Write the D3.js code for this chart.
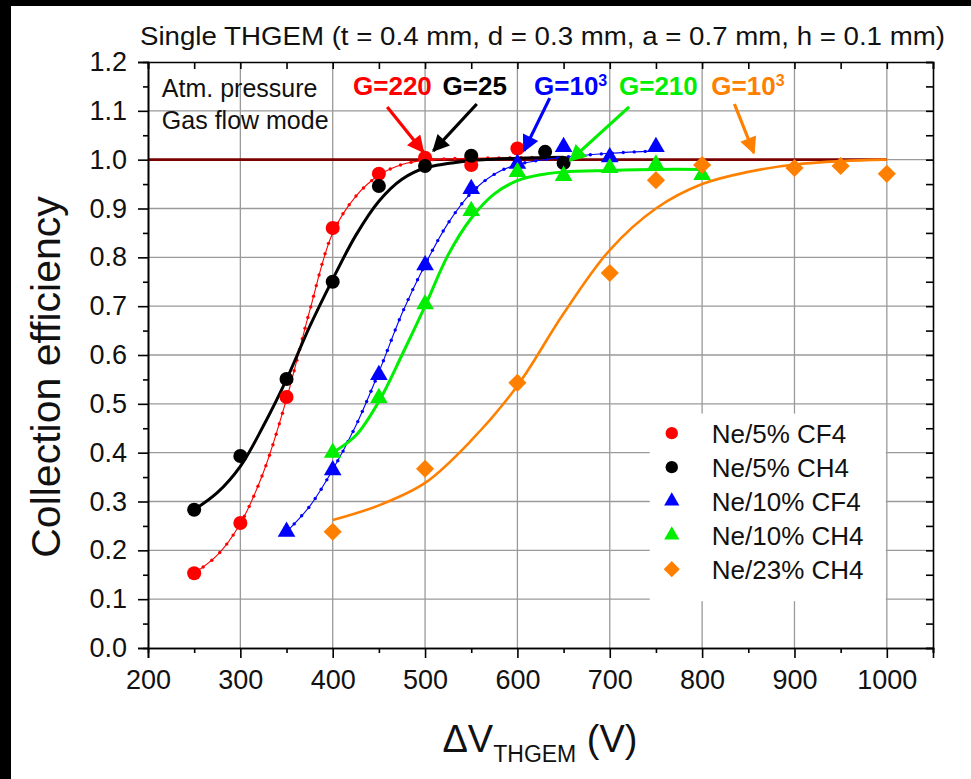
<!DOCTYPE html>
<html lang="en">
<head>
<meta charset="UTF-8">
<title>Single THGEM - Collection efficiency</title>
<script src="https://d3js.org/d3.v7.min.js"></script>
<style>
  body { margin: 0; background: #fff; }
  svg { display: block; font-family: "Liberation Sans", Arial, sans-serif; }
  .grid line { stroke: #9a9a9a; stroke-width: 1.3; }
  .axis path, .axis line { stroke: #000; stroke-width: 1.6; }
  .axis text { font-size: 27px; fill: #111; font-family: "Liberation Sans", Arial, sans-serif; }
</style>
</head>
<body>
<svg width="971" height="779"></svg>
<script>
// ---- data ----
const xTicks = [200, 300, 400, 500, 600, 700, 800, 900, 1000];
const xMinor = [250, 350, 450, 550, 650, 750, 850, 950, 1050];
const yTicks = [0, 0.1, 0.2, 0.3, 0.4, 0.5, 0.6, 0.7, 0.8, 0.9, 1.0, 1.1, 1.2];
const yMinor = [0.05, 0.15, 0.25, 0.35, 0.45, 0.55, 0.65, 0.75, 0.85, 0.95, 1.05, 1.15];

// measured points [ΔV, efficiency]
const ne5CF4 = [[250, 0.153], [300, 0.256], [350, 0.514], [400, 0.86], [450, 0.971], [500, 1.004], [550, 0.989], [600, 1.023]];
const ne5CH4 = [[250, 0.283], [300, 0.393], [350, 0.551], [400, 0.75], [450, 0.946], [500, 0.987], [550, 1.008], [630, 1.016], [650, 0.993]];
const ne10CF4 = [[350, 0.238], [400, 0.364], [450, 0.559], [500, 0.784], [550, 0.94], [600, 0.992], [650, 1.026], [700, 1.005], [750, 1.026]];
const ne10CH4 = [[400, 0.40], [450, 0.512], [500, 0.704], [550, 0.895], [600, 0.975], [650, 0.967], [700, 0.983], [750, 0.99], [800, 0.969]];
const ne23CH4 = [[400, 0.238], [500, 0.367], [600, 0.543], [700, 0.768], [750, 0.958], [800, 0.989], [900, 0.983], [950, 0.987], [1000, 0.971]];

// fitted curves
const fitNe5CF4 = [[250, 0.153], [275, 0.19], [300, 0.255], [325, 0.36], [350, 0.51], [375, 0.69], [400, 0.85], [425, 0.925], [450, 0.968], [475, 0.99], [500, 0.999], [550, 1.003], [600, 1.004], [650, 1.005]];
const fitNe5CH4 = [[250, 0.283], [275, 0.318], [300, 0.372], [325, 0.455], [350, 0.55], [375, 0.658], [400, 0.755], [425, 0.845], [450, 0.915], [475, 0.96], [500, 0.983], [550, 0.998], [600, 1.003], [650, 1.005]];
const fitNe10CF4 = [[350, 0.238], [375, 0.29], [400, 0.365], [425, 0.455], [450, 0.565], [475, 0.685], [500, 0.785], [525, 0.87], [550, 0.932], [575, 0.97], [600, 0.99], [650, 1.005], [700, 1.013], [750, 1.018]];
const fitNe10CH4 = [[400, 0.40], [425, 0.435], [450, 0.505], [475, 0.6], [500, 0.70], [525, 0.805], [550, 0.88], [575, 0.93], [600, 0.957], [625, 0.969], [650, 0.975], [700, 0.978], [750, 0.98], [800, 0.98]];
const fitNe23CH4 = [[400, 0.262], [450, 0.292], [500, 0.338], [550, 0.425], [600, 0.537], [650, 0.685], [700, 0.815], [750, 0.9], [800, 0.95], [850, 0.975], [900, 0.99], [950, 0.997], [1000, 1.0]];

const unityLine = [[200, 1.0], [1000, 1.0]];

const series = [
  { name: "Ne/5% CF4",  color: "#ff0000", shape: "circle",   pts: ne5CF4,  fit: fitNe5CF4,  width: 1.1, dotted: true },
  { name: "Ne/5% CH4",  color: "#000000", shape: "circle",   pts: ne5CH4,  fit: fitNe5CH4,  width: 3,   dotted: false },
  { name: "Ne/10% CF4", color: "#0000ff", shape: "triangle", pts: ne10CF4, fit: fitNe10CF4, width: 1.1, dotted: true },
  { name: "Ne/10% CH4", color: "#00ee00", shape: "triangle", pts: ne10CH4, fit: fitNe10CH4, width: 3,   dotted: false },
  { name: "Ne/23% CH4", color: "#ff8000", shape: "diamond",  pts: ne23CH4, fit: fitNe23CH4, width: 2.6, dotted: false }
];

// gain annotations: label, colour, text start (V), arrow from -> to (V, eff)
const gainNotes = [
  { base: "G=220", sup: "",  color: "#ff0000", tx: 422, from: [459, 1.108], to: [498, 1.016] },
  { base: "G=25",  sup: "",  color: "#000000", tx: 519, from: [556, 1.114], to: [509, 1.018] },
  { base: "G=10",  sup: "3", color: "#0000ff", tx: 618, from: [635, 1.126], to: [607, 1.018] },
  { base: "G=210", sup: "",  color: "#00ee00", tx: 710, from: [721, 1.108], to: [657, 0.998] },
  { base: "G=10",  sup: "3", color: "#ff8000", tx: 810, from: [835, 1.114], to: [856, 1.014] }
];

const svg = d3.select("svg");
const W = 971, H = 779;
const margin = { top: 62, right: 38, bottom: 131, left: 148 };
const width = W - margin.left - margin.right;
const height = H - margin.top - margin.bottom;

svg.append("rect").attr("width", W).attr("height", H).attr("fill", "#fff");
// black scan border on the left and top
svg.append("rect").attr("x", 0).attr("y", 0).attr("width", 11).attr("height", H).attr("fill", "#000");
svg.append("rect").attr("x", 0).attr("y", 0).attr("width", W).attr("height", 6).attr("fill", "#000");

const x = d3.scaleLinear().domain([200, 1050]).range([0, width]);
const y = d3.scaleLinear().domain([0, 1.2]).range([height, 0]);

const g = svg.append("g").attr("transform", `translate(${margin.left},${margin.top})`);

// grid
const grid = g.append("g").attr("class", "grid");
grid.selectAll(".gx").data(xTicks.slice(1)).join("line")
  .attr("x1", d => x(d)).attr("x2", d => x(d)).attr("y1", 0).attr("y2", height);
grid.selectAll(".gy").data(yTicks.slice(1, -1)).join("line")
  .attr("x1", 0).attr("x2", width).attr("y1", d => y(d)).attr("y2", d => y(d));

// legend background (blanks the grid behind it)
const legendX = x(700) + 40, legendY = y(0.48);
g.append("rect").attr("x", legendX).attr("y", legendY)
  .attr("width", x(1000) - legendX - 1).attr("height", y(0.1) - legendY + 2)
  .attr("fill", "#fff");

// unity line
const line = d3.line().x(d => x(d[0])).y(d => y(d[1]));
g.append("path").datum(unityLine).attr("d", line)
  .attr("fill", "none").attr("stroke", "#7a0000").attr("stroke-width", 2.6);

// fitted curves
const curve = d3.line().x(d => x(d[0])).y(d => y(d[1])).curve(d3.curveCatmullRom.alpha(0.5));
series.forEach(s => {
  const p = g.append("path").datum(s.fit).attr("d", curve)
    .attr("fill", "none").attr("stroke", s.color).attr("stroke-width", s.width)
    .attr("stroke-linejoin", "round");
  if (s.dotted) {
    const node = p.node(), len = node.getTotalLength();
    const dots = d3.range(0, len, 11).map(l => node.getPointAtLength(l));
    g.selectAll(null).data(dots).join("circle")
      .attr("cx", d => d.x).attr("cy", d => d.y).attr("r", 1.7).attr("fill", s.color);
  }
});

// markers
const symbolFor = {
  circle: d3.symbol().type(d3.symbolCircle).size(155),
  triangle: d3.symbol().type(d3.symbolTriangle).size(135),
  diamond: d3.symbol().type(d3.symbolSquare).size(165)
};
const rotFor = { circle: 0, triangle: 0, diamond: 45 };
series.forEach(s => {
  g.selectAll(null).data(s.pts).join("path")
    .attr("d", symbolFor[s.shape])
    .attr("transform", d => `translate(${x(d[0])},${y(d[1])}) rotate(${rotFor[s.shape]})`)
    .attr("fill", s.color);
});

// axes
const fmt = d3.format(".1f");
g.append("g").attr("class", "axis")
  .call(d3.axisLeft(y).tickValues(yTicks).tickSize(10).tickPadding(11).tickFormat(fmt));
g.append("g").attr("class", "axis")
  .call(d3.axisLeft(y).tickValues(yMinor).tickSize(5).tickFormat(""));
g.append("g").attr("class", "axis").attr("transform", `translate(0,${height})`)
  .call(d3.axisBottom(x).tickValues(xTicks).tickSize(10).tickPadding(12).tickFormat(d3.format("d")));
g.append("g").attr("class", "axis").attr("transform", `translate(0,${height})`)
  .call(d3.axisBottom(x).tickValues(xMinor).tickSize(5).tickFormat(""));
g.append("g").attr("class", "axis")
  .call(d3.axisTop(x).tickValues(xTicks.concat(xMinor)).tickSize(-7).tickFormat(""));
g.append("g").attr("class", "axis").attr("transform", `translate(${width},0)`)
  .call(d3.axisRight(y).tickValues(yTicks.concat(yMinor)).tickSize(-7).tickFormat(""));
g.selectAll(".axis .domain").attr("stroke-width", 2);

// legend
const legend = g.append("g").attr("transform", `translate(${legendX},${legendY})`);
series.forEach((s, i) => {
  const row = legend.append("g").attr("transform", `translate(0,${y(0.44) - legendY + i * 34})`);
  row.append("path").attr("d", d3.symbol().type(
      s.shape === "circle" ? d3.symbolCircle : s.shape === "triangle" ? d3.symbolTriangle : d3.symbolSquare
    ).size(s.shape === "circle" ? 120 : s.shape === "triangle" ? 100 : 130)())
    .attr("transform", `translate(22,0) rotate(${rotFor[s.shape]})`)
    .attr("fill", s.color);
  row.append("text").attr("x", 62).attr("y", 10).attr("font-size", 26).attr("fill", "#111").text(s.name);
});

// annotations
g.append("text").attr("x", x(215)).attr("y", y(1.128)).attr("font-size", 25).attr("fill", "#111").text("Atm. pressure");
g.append("text").attr("x", x(215)).attr("y", y(1.063)).attr("font-size", 25).attr("fill", "#111").text("Gas flow mode");

const defs = svg.append("defs");
gainNotes.forEach((n, i) => {
  defs.append("marker").attr("id", "ah" + i)
    .attr("viewBox", "0 0 10 10").attr("refX", 9).attr("refY", 5)
    .attr("markerUnits", "userSpaceOnUse").attr("markerWidth", 22).attr("markerHeight", 17)
    .attr("orient", "auto")
    .append("path").attr("d", "M0,0 L10,5 L0,10 Z").attr("fill", n.color);
  const t = g.append("text").attr("x", x(n.tx)).attr("y", y(1.1325))
    .attr("font-size", 26).attr("font-weight", "bold").attr("fill", n.color);
  t.append("tspan").text(n.base);
  if (n.sup) t.append("tspan").attr("dy", -9).attr("font-size", 16).text(n.sup);
  g.append("line")
    .attr("x1", x(n.from[0])).attr("y1", y(n.from[1]))
    .attr("x2", x(n.to[0])).attr("y2", y(n.to[1]))
    .attr("stroke", n.color).attr("stroke-width", 3.2)
    .attr("marker-end", `url(#ah${i})`);
});

// titles
svg.append("text").attr("x", 140).attr("y", 45)
  .attr("font-family", "'Liberation Sans Narrow', 'Liberation Sans', Arial, sans-serif")
  .attr("font-size", 25).attr("fill", "#111")
  .attr("textLength", 805).attr("lengthAdjust", "spacingAndGlyphs")
  .text("Single THGEM (t = 0.4 mm, d = 0.3 mm, a = 0.7 mm, h = 0.1 mm)");

svg.append("text")
  .attr("transform", `translate(60,${margin.top + y(0.555)}) rotate(-90)`)
  .attr("text-anchor", "middle").attr("font-size", 41).attr("fill", "#111")
  .text("Collection efficiency");

const xt = svg.append("text").attr("x", 540).attr("y", 752)
  .attr("text-anchor", "middle").attr("font-size", 38).attr("fill", "#111");
xt.append("tspan").text("ΔV");
xt.append("tspan").attr("dy", 10).attr("font-size", 23).text("THGEM");
xt.append("tspan").attr("dy", -10).text(" (V)");
</script>
</body>
</html>
